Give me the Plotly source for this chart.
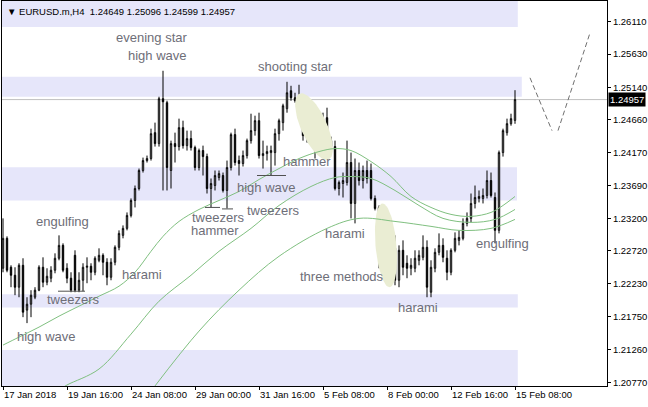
import numpy as np
import plotly.graph_objects as go

# ---------------- data ----------------
bars = list(range(129))
open_ = [1.22462,1.22905,1.22477,1.22359,1.22182,1.22506,1.21843,1.21931,1.22034,1.22138,
         1.22477,1.22256,1.22315,1.22433,1.22610,1.22801,1.22462,1.22315,1.22654,1.22138,
         1.22285,1.22477,1.22492,1.22403,1.22580,1.22654,1.22551,1.22329,1.22551,1.22772,
         1.22949,1.23052,1.23244,1.23465,1.23642,1.23908,1.24055,1.24085,1.24468,1.24306,
         1.24970,1.24911,1.23908,1.24306,1.24262,1.24542,1.24276,1.24380,1.24247,1.23952,
         1.24203,1.24114,1.23642,1.23686,1.23804,1.23834,1.23613,1.23952,1.24439,1.24055,
         1.24011,1.24129,1.24350,1.24498,1.24645,1.24129,1.24158,1.24173,1.24173,1.24453,
         1.24616,1.24822,1.25088,1.24984,1.24970,1.24837,1.24424,1.24689,1.24321,1.24527,
         1.24601,1.24689,1.24350,1.24262,1.23642,1.23716,1.23731,1.24026,1.23421,1.23908,
         1.23760,1.23908,1.23908,1.23495,1.23362,1.22698,1.22610,1.22698,1.22757,1.22285,
         1.22728,1.22536,1.22462,1.22462,1.22580,1.22624,1.22772,1.22108,1.22462,1.22698,
         1.22801,1.22610,1.22403,1.22728,1.22875,1.22905,1.23126,1.23200,1.23421,1.23495,
         1.23495,1.23539,1.23760,1.23509,1.23023,1.24173,1.24468,1.24601,1.24649]
high = [1.23200,1.22934,1.22506,1.22477,1.22536,1.22610,1.22034,1.22138,1.22182,1.22506,
        1.22624,1.22462,1.22492,1.22683,1.22949,1.22831,1.22536,1.22403,1.22728,1.22403,
        1.22536,1.22624,1.22536,1.22639,1.22757,1.22683,1.22610,1.22610,1.22801,1.23023,
        1.23096,1.23288,1.23495,1.23686,1.23937,1.24099,1.24129,1.24527,1.24616,1.24999,
        1.25383,1.24940,1.24350,1.24468,1.24675,1.24645,1.24498,1.24498,1.24276,1.24232,
        1.24276,1.24158,1.23790,1.23908,1.23908,1.23878,1.24055,1.24468,1.24527,1.24129,
        1.24203,1.24380,1.24748,1.24719,1.24763,1.24350,1.24276,1.24276,1.24527,1.24675,
        1.24896,1.25220,1.25161,1.25058,1.25176,1.24940,1.24748,1.24763,1.24571,1.24719,
        1.24763,1.24837,1.24409,1.24350,1.23760,1.23878,1.24350,1.24173,1.24085,1.24026,
        1.23981,1.24055,1.24011,1.23539,1.23391,1.22801,1.22875,1.22875,1.22949,1.22801,
        1.22875,1.22654,1.22610,1.22728,1.22728,1.22949,1.22875,1.22580,1.22757,1.22978,
        1.22905,1.22728,1.22757,1.22993,1.23023,1.23200,1.23288,1.23568,1.23686,1.23613,
        1.23642,1.23908,1.23878,1.23583,1.24203,1.24527,1.24675,1.24748,1.25096]
low = [1.22403,1.22403,1.22182,1.22064,1.22034,1.21739,1.21651,1.21739,1.22005,1.22123,
       1.22182,1.22211,1.22256,1.22388,1.22580,1.22403,1.22241,1.22108,1.22108,1.22108,
       1.22123,1.22241,1.22285,1.22359,1.22551,1.22359,1.22211,1.22285,1.22506,1.22728,
       1.22905,1.23023,1.23214,1.23362,1.23613,1.23878,1.24026,1.24055,1.24262,1.24262,
       1.23613,1.23613,1.23642,1.24026,1.24203,1.24232,1.24203,1.24203,1.23908,1.23908,
       1.23834,1.23568,1.23362,1.23613,1.23760,1.23583,1.23347,1.23908,1.23981,1.23834,
       1.23967,1.24085,1.24306,1.24424,1.24085,1.23937,1.24055,1.23834,1.23981,1.24350,
       1.24498,1.24763,1.24940,1.24911,1.24793,1.24350,1.24321,1.24468,1.24085,1.24394,
       1.24350,1.24394,1.24203,1.23613,1.23539,1.23509,1.23686,1.23200,1.23126,1.23686,
       1.23642,1.23716,1.23465,1.23318,1.22462,1.22551,1.22536,1.22610,1.22211,1.22182,
       1.22359,1.22315,1.22359,1.22403,1.22506,1.22580,1.22034,1.22034,1.22403,1.22654,
       1.22551,1.22285,1.22359,1.22698,1.22801,1.22875,1.23082,1.23141,1.23347,1.23436,
       1.23421,1.23495,1.23509,1.22831,1.22978,1.24114,1.24424,1.24571,1.24599]
close = [1.22905,1.22433,1.22359,1.22182,1.22506,1.21813,1.21931,1.22064,1.22138,1.22477,
         1.22256,1.22344,1.22433,1.22610,1.22801,1.22433,1.22315,1.22138,1.22138,1.22285,
         1.22477,1.22492,1.22403,1.22610,1.22654,1.22551,1.22329,1.22551,1.22772,1.22978,
         1.23052,1.23244,1.23465,1.23642,1.23908,1.24055,1.24085,1.24453,1.24306,1.24970,
         1.24925,1.23952,1.24306,1.24262,1.24542,1.24276,1.24380,1.24247,1.23952,1.24203,
         1.24114,1.23642,1.23716,1.23834,1.23863,1.23613,1.23952,1.24439,1.24026,1.24011,
         1.24129,1.24350,1.24498,1.24645,1.24129,1.24158,1.24188,1.24203,1.24453,1.24645,
         1.24866,1.25058,1.24984,1.24940,1.24837,1.24424,1.24689,1.24527,1.24527,1.24601,
         1.24645,1.24424,1.24262,1.23642,1.23731,1.23760,1.24026,1.23421,1.23908,1.23760,
         1.23908,1.23790,1.23495,1.23347,1.22683,1.22610,1.22757,1.22757,1.22285,1.22728,
         1.22477,1.22462,1.22506,1.22610,1.22654,1.22772,1.22182,1.22477,1.22698,1.22801,
         1.22624,1.22403,1.22728,1.22905,1.22919,1.23126,1.23200,1.23421,1.23509,1.23524,
         1.23539,1.23760,1.23539,1.23023,1.24173,1.24498,1.24601,1.24675,1.24957]

tick_bars = [0, 16, 32, 48, 64, 80, 96, 112, 128]
tick_labels = ["17 Jan 2018", "19 Jan 16:00", "24 Jan 08:00", "29 Jan 00:00", "31 Jan 16:00",
               "5 Feb 08:00", "8 Feb 00:00", "12 Feb 16:00", "15 Feb 08:00"]
price_ticks = [1.26110, 1.25630, 1.25140, 1.24660, 1.24170, 1.23690, 1.23200,
               1.22720, 1.22230, 1.21750, 1.21260, 1.20770]

# moving averages (sampled bars, prices)
ma_fast_x = [0,4,9,14,19,24,29,33,37,40,44,49,54,59,64,69,74,79,83,87,92,97,102,107,112,117,122,125,128]
ma_fast_y = [1.21326,1.21444,1.21592,1.21754,1.21902,1.22049,1.22197,1.22403,1.22713,1.22934,
             1.23155,1.23332,1.23465,1.23598,1.23775,1.23937,1.24085,1.24188,1.24232,1.24203,
             1.24040,1.23819,1.23524,1.23362,1.23259,1.23229,1.23288,1.23391,1.23524]
ma_mid_x = [14,16,24,32,39,47,54,62,69,77,83,87,92,98,104,110,117,123,128]
ma_mid_y = [1.20663,1.20736,1.20972,1.21488,1.21975,1.22359,1.22713,1.23052,1.23391,1.23672,
            1.23804,1.23819,1.23790,1.23613,1.23391,1.23200,1.23141,1.23185,1.23332]
ma_slow_x = [38,49,59,69,81,89,98,107,114,122,128]
ma_slow_y = [1.20722,1.21533,1.22138,1.22639,1.23052,1.23200,1.23155,1.23082,1.23023,1.23052,1.23185]

# support / resistance zones: (low price, high price, last bar)
zones = [(1.26032, 1.27000, 128.7), (1.24999, 1.25294, 129.7), (1.23465, 1.23956, 128.5),
         (1.21882, 1.22078, 128.7), (1.20000, 1.21253, 128.7)]

# pattern labels: (text, bar, price)
labels = [("evening star", 37.0, 1.25869), ("high wave", 38.5, 1.25604),
          ("shooting star", 73.0, 1.25442), ("hammer", 76.0, 1.24040),
          ("high wave", 65.75, 1.23657), ("tweezers", 67.5, 1.23318),
          ("tweezers", 53.75, 1.23214), ("hammer", 53.0, 1.23023),
          ("engulfing", 14.75, 1.23155), ("harami", 34.75, 1.22374),
          ("tweezers", 17.5, 1.22005), ("high wave", 10.75, 1.21459),
          ("harami", 85.5, 1.22978), ("three methods", 84.75, 1.22344),
          ("harami", 103.75, 1.21887), ("engulfing", 124.75, 1.22831)]

# short level marks: (bar from, bar to, price)
marks = [(13.75, 20.5, 1.22123), (50.5, 54.25, 1.23362), (54.75, 57.5, 1.23340),
         (63.5, 70.75, 1.23834)]

# forecast path (dashed)
proj_x = [131.75, 137.25, None, 138.75, 146.75]
proj_y = [1.25279, 1.24498, None, 1.24498, 1.25943]

last_price = 1.24957

# ---------------- layout geometry ----------------
W, H = 648, 407
ML, MR, MT, MB = 2, 41, 1, 21
x_range = [-0.25, 151.0]
y_range = [1.20721, 1.26415]
bar_per_px = (x_range[1] - x_range[0]) / (W - ML - MR)
price_per_px = (y_range[1] - y_range[0]) / (H - MT - MB)

def ellipse(cb, cp, a_px, b_px, tilt_deg, n=80):
    t = np.linspace(0, 2 * np.pi, n)
    th = np.radians(tilt_deg)
    ux, uy = np.sin(th), np.cos(th)
    vx, vy = np.cos(th), -np.sin(th)
    dx = a_px * np.cos(t) * ux + b_px * np.sin(t) * vx
    dy = a_px * np.cos(t) * uy + b_px * np.sin(t) * vy
    return cb + dx * bar_per_px, cp - dy * price_per_px

fig = go.Figure()

# highlight ellipses
for (cb, cp, a, b, tilt) in [(77.75, 1.24557, 36, 13, 24), (95.75, 1.22801, 42, 10.5, 5)]:
    ex, ey = ellipse(cb, cp, a, b, tilt)
    fig.add_trace(go.Scatter(x=ex, y=ey, mode="lines", fill="toself",
                             fillcolor="#eaedd3", line=dict(width=0),
                             hoverinfo="skip", showlegend=False))

# moving averages
for mx, my in [(ma_fast_x, ma_fast_y), (ma_mid_x, ma_mid_y), (ma_slow_x, ma_slow_y)]:
    fig.add_trace(go.Scatter(x=mx, y=my, mode="lines", line=dict(color="#80c080", width=1, shape="spline"),
                             hoverinfo="skip", showlegend=False))

# candles
fig.add_trace(go.Candlestick(
    x=bars, open=open_, high=high, low=low, close=close,
    increasing=dict(line=dict(color="black", width=1), fillcolor="white"),
    decreasing=dict(line=dict(color="black", width=1), fillcolor="black"),
    whiskerwidth=0, showlegend=False, hoverinfo="skip"))

# level marks
for (b0, b1, p) in marks:
    fig.add_trace(go.Scatter(x=[b0, b1], y=[p, p], mode="lines",
                             line=dict(color="#505050", width=1), hoverinfo="skip", showlegend=False))

# forecast dashed path
fig.add_trace(go.Scatter(x=proj_x, y=proj_y, mode="lines",
                         line=dict(color="#707070", width=1, dash="5px,3px"),
                         hoverinfo="skip", showlegend=False))

shapes = []
for (p0, p1, b_end) in zones:
    shapes.append(dict(type="rect", xref="x", yref="y", x0=-1, x1=b_end, y0=p0, y1=p1,
                       fillcolor="#e6e6fa", line=dict(width=0), layer="below"))
shapes.append(dict(type="line", xref="paper", yref="y", x0=0, x1=1, y0=last_price, y1=last_price,
                   line=dict(color="#c0c0c0", width=1), layer="below"))

FONT = "Liberation Sans, Arial, sans-serif"
annotations = []
for (txt, b, p) in labels:
    annotations.append(dict(x=b, y=p, xref="x", yref="y", text=txt, showarrow=False,
                            font=dict(family=FONT, size=13, color="#6e6e78")))
annotations.append(dict(x=1, y=last_price, xref="paper", yref="y", text="1.24957", showarrow=False,
                        xanchor="left", yanchor="middle", xshift=1, bgcolor="black",
                        font=dict(family=FONT, size=9.5, color="white"), borderpad=1))
annotations.append(dict(x=0, y=1, xref="paper", yref="paper", xanchor="left", yanchor="top",
                        xshift=3, yshift=-3, showarrow=False,
                        text="\u25bc EURUSD.m,H4\u00a0\u00a01.24649 1.25096 1.24599 1.24957",
                        font=dict(family=FONT, size=9.5, color="black")))

fig.update_layout(
    width=W, height=H, margin=dict(l=ML, r=MR, t=MT, b=MB, autoexpand=False),
    paper_bgcolor="white", plot_bgcolor="white",
    boxgap=0.5, showlegend=False,
    shapes=shapes, annotations=annotations,
    xaxis=dict(range=x_range, tickmode="array", tickvals=tick_bars, ticktext=tick_labels,
               ticks="outside", ticklen=3, tickcolor="black", showgrid=False, zeroline=False,
               showline=True, linecolor="black", linewidth=1, mirror=True,
               ticklabelposition="outside right", tickangle=0, automargin=False,
               tickfont=dict(family=FONT, size=9.5, color="black"),
               rangeslider=dict(visible=False), fixedrange=True),
    yaxis=dict(range=y_range, side="right", tickmode="array", tickvals=price_ticks,
               ticktext=[f"{v:.5f}" for v in price_ticks], automargin=False,
               ticks="outside", ticklen=3, tickcolor="black", showgrid=False, zeroline=False,
               showline=True, linecolor="black", linewidth=1, mirror=True,
               tickfont=dict(family=FONT, size=9.5, color="black"),
               fixedrange=True),
)

fig.write_html("out.html", config={"displayModeBar": False},
               post_script="document.body.style.margin='0';document.body.style.overflow='hidden';")
